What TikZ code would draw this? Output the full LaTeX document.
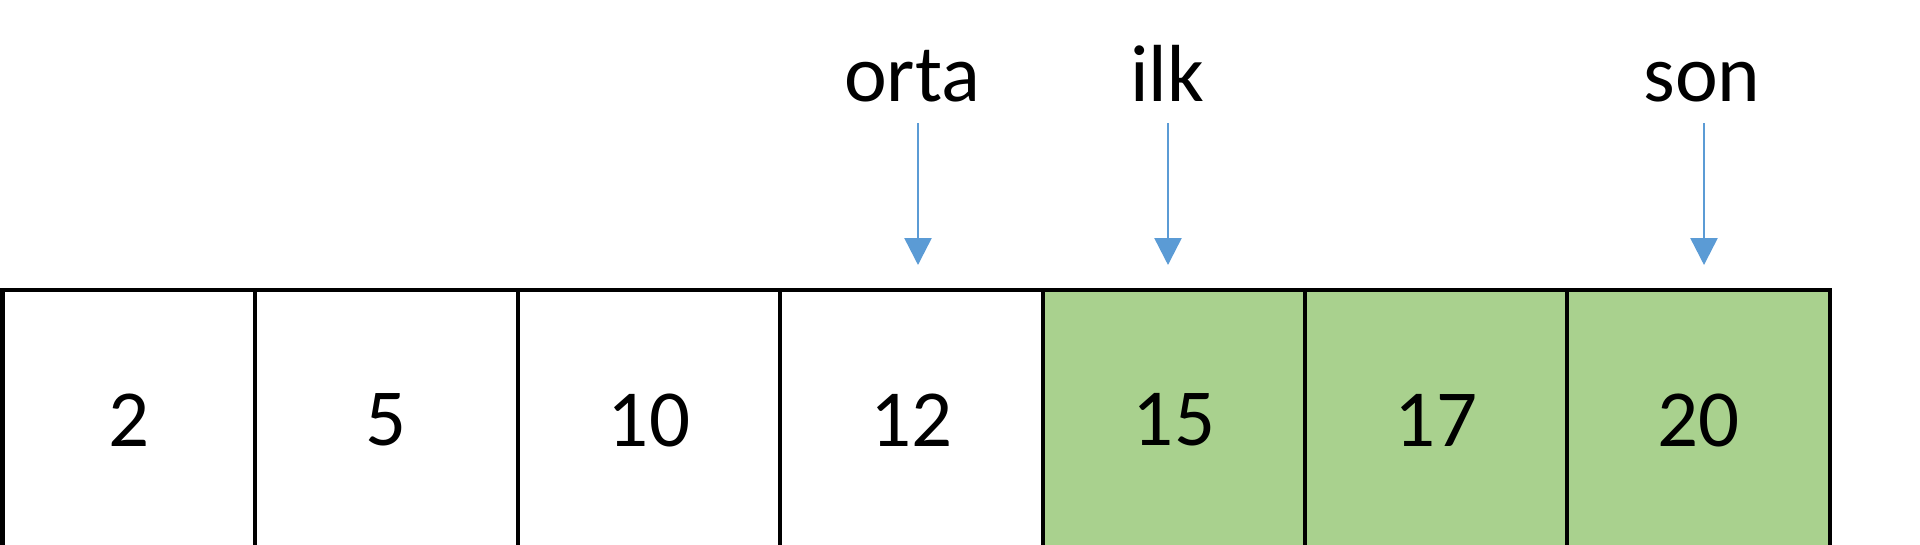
\documentclass[tikz,border=0pt]{standalone}
\usepackage{fontspec}
\setmainfont{Carlito}
\usetikzlibrary{arrows.meta}
\definecolor{cellgreen}{HTML}{A9D18E}
\definecolor{arrowblue}{HTML}{5B9BD5}
\tikzset{
  cell/.style={draw=black, line width=4.5pt, minimum height=260pt, inner sep=0pt,
    font=\fontsize{81}{96}\selectfont},
  hot/.style={cell, fill=cellgreen},
  lbl/.style={anchor=base, inner sep=0pt, font=\fontsize{81}{96}\selectfont},
  ptr/.style={draw=arrowblue, line width=2.5pt, -{Triangle[width=27pt,length=27pt]}, color=arrowblue}
}
\begin{document}
\begin{tikzpicture}[x=1pt,y=-1pt]
\useasboundingbox (0,0) rectangle (1920,544);
\fill[white] (0,0) rectangle (1920,544);
\clip (0,0) rectangle (1920,544);
% cells
\node[cell, minimum width=252.5pt] (c1) at (128.75,420) {2};
\node[cell, minimum width=263pt] (c2) at (386.5,420) {5};
\node[cell, minimum width=262pt] (c3) at (649,420) {10};
\node[cell, minimum width=263pt] (c4) at (911.5,420) {12};
\node[hot, minimum width=262pt] (c5) at (1174,420) {15};
\node[hot, minimum width=262pt] (c6) at (1436,420) {17};
\node[hot, minimum width=263pt] (c7) at (1698.5,420) {20};
% labels
\node[lbl] (orta) at (912,101) {orta};
\node[lbl] (ilk) at (1167,101) {ilk};
\node[lbl] (son) at (1702,101) {son};
% pointer ends
\coordinate (o1) at (918,123);
\coordinate (o2) at (918,265);
\coordinate (i1) at (1168,123);
\coordinate (i2) at (1168,265);
\coordinate (s1) at (1704,123);
\coordinate (s2) at (1704,265);
\draw[ptr] (o1) -- (o2);
\draw[ptr] (i1) -- (i2);
\draw[ptr] (s1) -- (s2);
\end{tikzpicture}
\end{document}
